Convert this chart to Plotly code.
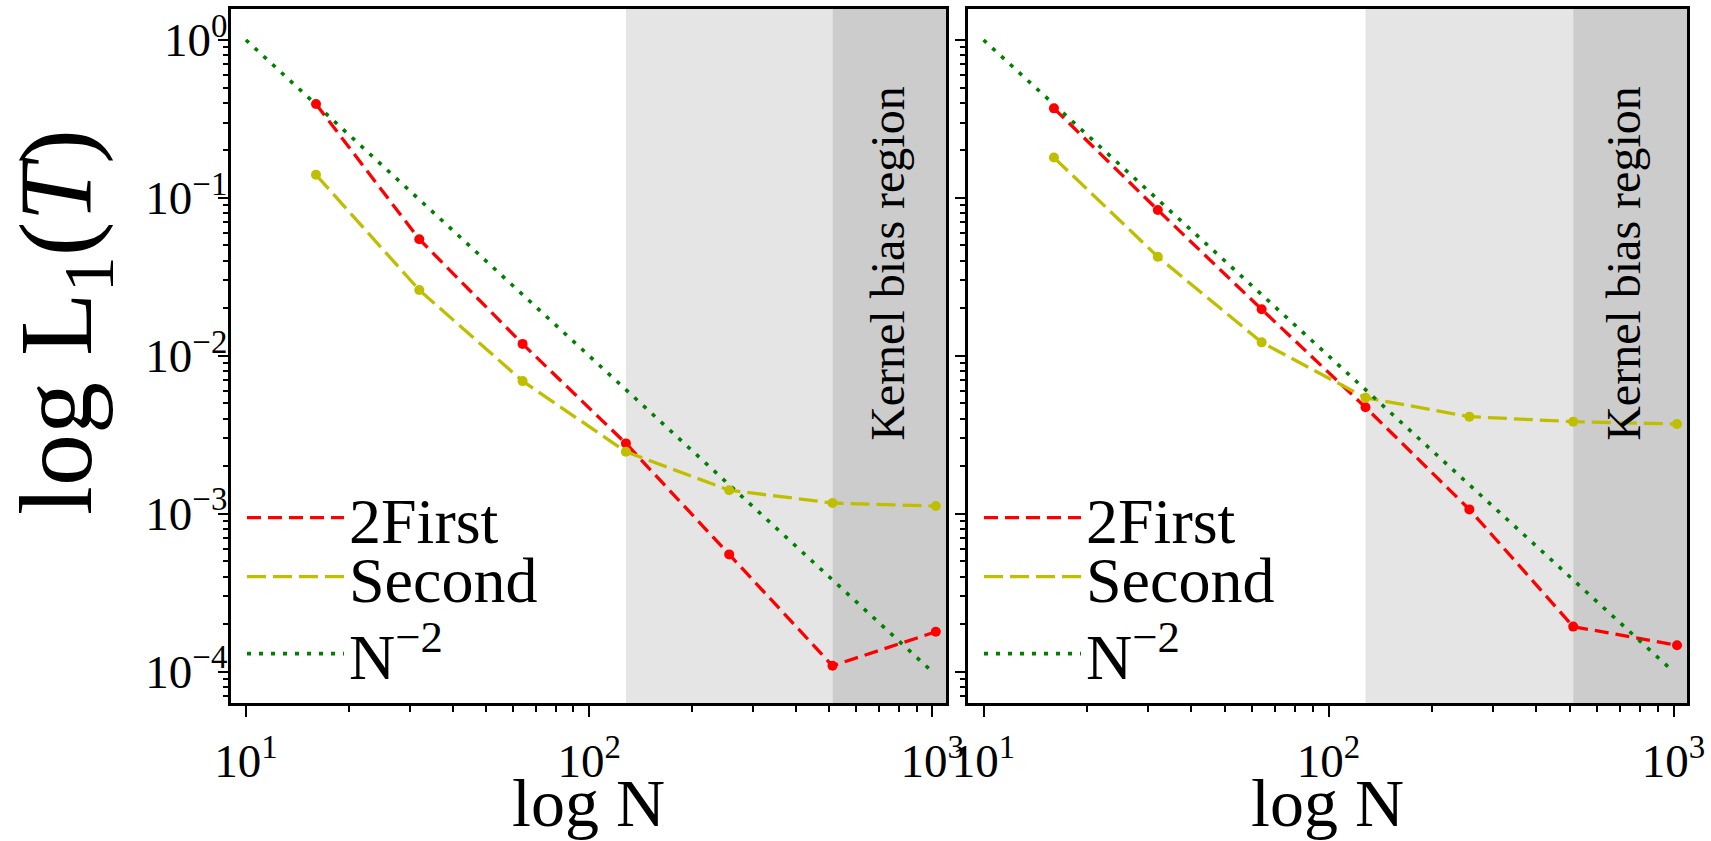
import numpy as np
import plotly.graph_objects as go

# ---------------- data ----------------
N = [16, 32, 64, 128, 256, 512, 1024]
left_2first = [0.393, 0.0547, 0.0119, 0.00279, 0.000553, 0.000109, 0.000179]
left_second = [0.140, 0.0261, 0.00692, 0.00247, 0.00141, 0.00117, 0.00112]
right_2first = [0.369, 0.0838, 0.0197, 0.00472, 0.001066, 0.000193, 0.000147]
right_second = [0.180, 0.0424, 0.01217, 0.00543, 0.00412, 0.00383, 0.00370]
ref_N = [10, 1000]
ref_N0 = 10  # reference line normalised to 1 at N = 10
ref_L1 = [(n / ref_N0) ** -2 for n in ref_N]

series_names = ["2First", "Second", "N<sup>−2</sup>"]
shade_light = [128, 512]
shade_dark = [512, 1200]
x_tickvals = [10, 100, 1000]
x_ticktext = ["10<sup>1</sup>", "10<sup>2</sup>", "10<sup>3</sup>"]
y_tickvals = [1, 0.1, 0.01, 0.001, 0.0001]
y_ticktext = ["10<sup>0</sup>", "10<sup>−1</sup>", "10<sup>−2</sup>", "10<sup>−3</sup>", "10<sup>−4</sup>"]
band_label = "Kernel bias region"
x_title = "log N"
y_title = "log L<sub>1</sub>(<i>T</i>)"

# ---------------- styling ----------------
W, H = 1711, 841
FONT = "Liberation Serif"
RED, YEL, GRN = "#ff0000", "#bfbf00", "#008000"
LIGHT, DARK = "#e5e5e5", "#cccccc"
TICK_SIZE = 47
LEGEND_ROWS_PX = [518, 577, 654]     # vertical centre of each legend row
LEGEND_LEFT_PX = [242, 979]          # left edge of each panel's legend

minor_x = [m * 10 ** e for e in range(0, 4) for m in range(2, 10)]
minor_y = [m * 10 ** e for e in range(-5, 1) for m in range(2, 10)]

line_styles = [
    dict(color=RED, width=3.3, dash="14px,7px"),
    dict(color=YEL, width=3.3, dash="19px,7px"),
    dict(color=GRN, width=3.6, dash="4px,8px"),
]

fig = go.Figure()
legend_layout = {}
legend_common = dict(bgcolor="rgba(0,0,0,0)", borderwidth=0, xanchor="left", yanchor="middle",
                     font=dict(family=FONT, size=64, color="black"), itemwidth=97,
                     tracegroupgap=0)

panels = [
    ("x", "y", left_2first, left_second, 0.919),
    ("x2", "y2", right_2first, right_second, 0.912),
]
for p, (xa, ya, first, second, band_x) in enumerate(panels):
    ys = [first, second, ref_L1]
    xs = [N, N, ref_N]
    for k in range(3):
        idx = p * 3 + k + 1
        lname = "legend" if idx == 1 else f"legend{idx}"
        legend_layout[lname] = dict(x=LEGEND_LEFT_PX[p] / W, y=1 - LEGEND_ROWS_PX[k] / H,
                                    **legend_common)
        fig.add_trace(go.Scatter(x=xs[k], y=ys[k], mode="lines", name=series_names[k],
                                 line=line_styles[k], xaxis=xa, yaxis=ya, legend=lname))
    fig.add_trace(go.Scatter(x=N, y=first, mode="markers", showlegend=False,
                             marker=dict(color=RED, size=10), xaxis=xa, yaxis=ya))
    fig.add_trace(go.Scatter(x=N, y=second, mode="markers", showlegend=False,
                             marker=dict(color=YEL, size=10), xaxis=xa, yaxis=ya))
    for (x0, x1), col in ((shade_light, LIGHT), (shade_dark, DARK)):
        fig.add_shape(type="rect", xref=xa, yref=ya + " domain", x0=x0, x1=x1, y0=0, y1=1,
                      fillcolor=col, line_width=0, layer="below")
    fig.add_annotation(text=band_label, xref=xa + " domain", yref=ya + " domain",
                       x=band_x, y=0.633, textangle=-90, showarrow=False,
                       xanchor="center", yanchor="middle",
                       font=dict(family=FONT, size=48, color="black"))
    fig.add_annotation(text=x_title, xref=xa + " domain", yref="paper",
                       x=0.5, y=0, xanchor="center", yanchor="bottom", yshift=-2,
                       showarrow=False, font=dict(family=FONT, size=68, color="black"))

ydom = [1 - 703.3 / H, 1 - 9 / H]
xrange_ = [0.955, 3.04]
yrange_ = [-4.2, 0.196]

def xaxis(domain, anchor):
    return dict(type="log", range=xrange_, domain=domain, anchor=anchor,
                tickmode="array", tickvals=x_tickvals, ticktext=x_ticktext,
                ticks="outside", ticklen=11, tickwidth=2, tickcolor="black",
                minor=dict(ticks="outside", ticklen=6, tickwidth=1.5, tickcolor="black",
                           tickvals=minor_x, showgrid=False),
                showline=True, linewidth=2.5, linecolor="black", mirror=True,
                showgrid=False, zeroline=False, ticklabelstandoff=4,
                automargin=False, ticklabeloverflow="allow",
                tickfont=dict(family=FONT, size=TICK_SIZE, color="black"))

def yaxis(anchor, labels):
    return dict(type="log", range=yrange_, domain=ydom, anchor=anchor,
                tickmode="array", tickvals=y_tickvals, ticktext=y_ticktext,
                showticklabels=labels,
                ticks="outside", ticklen=10, tickwidth=2, tickcolor="black",
                minor=dict(ticks="outside", ticklen=5, tickwidth=1.5, tickcolor="black",
                           tickvals=minor_y, showgrid=False),
                showline=True, linewidth=2.5, linecolor="black", mirror=True,
                showgrid=False, zeroline=False, ticklabelstandoff=-19,
                automargin=False, ticklabeloverflow="allow",
                tickfont=dict(family=FONT, size=TICK_SIZE, color="black"))

fig.update_layout(
    width=W, height=H,
    margin=dict(l=0, r=0, t=0, b=0, autoexpand=False),
    paper_bgcolor="white", plot_bgcolor="white",
    xaxis=xaxis([230.5 / W, 946 / W], "y"),
    xaxis2=xaxis([968 / W, 1687.3 / W], "y2"),
    yaxis=yaxis("x", True),
    yaxis2=yaxis("x2", False),
    **legend_layout,
)
fig.add_annotation(text=y_title, xref="paper", yref="paper", x=63 / W, y=1 - 322 / H,
                   xanchor="center", yanchor="middle",
                   textangle=-90, showarrow=False,
                   font=dict(family=FONT, size=104, color="black"))

fig.write_html("out.html", config={"displayModeBar": False},
               post_script="document.body.style.margin='0';")
